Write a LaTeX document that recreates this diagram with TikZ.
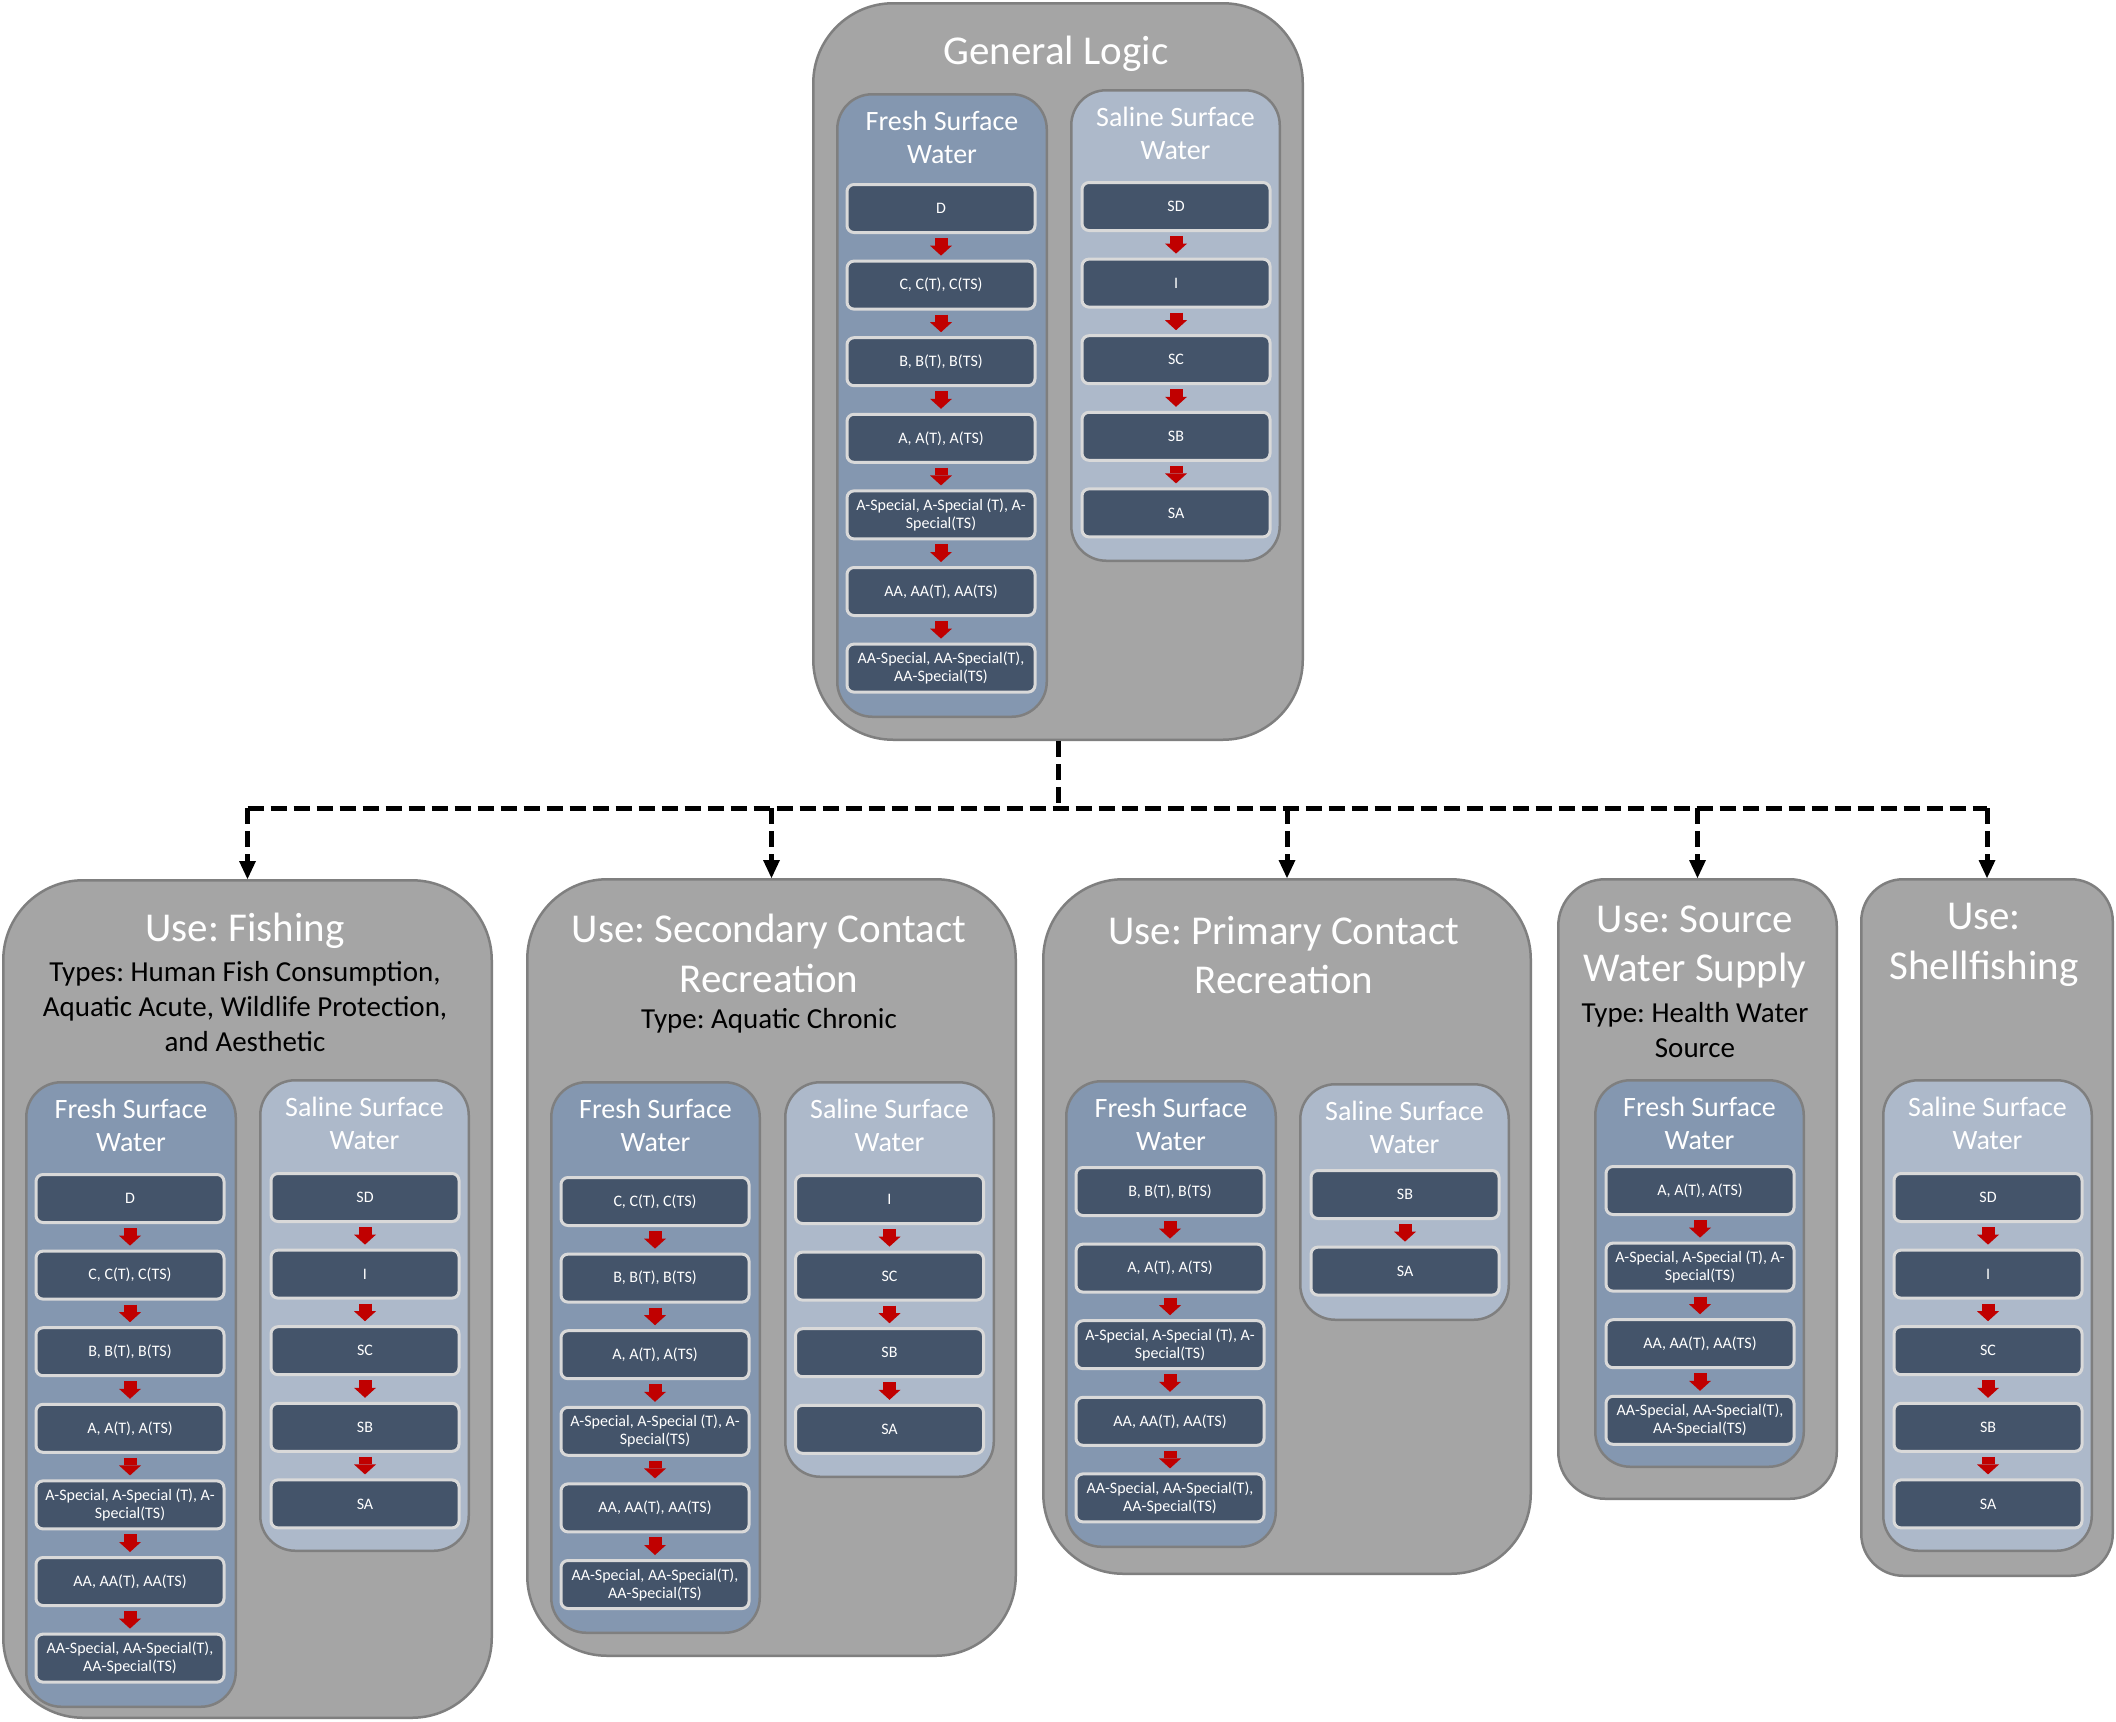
\documentclass[tikz,border=0pt]{standalone}
\usepackage{fontspec}
\setmainfont{Carlito}
\usetikzlibrary{arrows.meta}
\frenchspacing
\definecolor{outerfill}{HTML}{A5A5A5}
\definecolor{outerdraw}{HTML}{7F7F7F}
\definecolor{freshfill}{HTML}{8497B0}
\definecolor{salinefill}{HTML}{ADB9CA}
\definecolor{itemfill}{HTML}{44546A}
\definecolor{itemdraw}{HTML}{D9D9D9}
\definecolor{flowred}{HTML}{C00000}

\newcommand\txD{D}
\newcommand\txC{C, C(T), C(TS)}
\newcommand\txB{B, B(T), B(TS)}
\newcommand\txA{A, A(T), A(TS)}
\newcommand\txAS{A-Special, A-Special (T), A-\\Special(TS)}
\newcommand\txAA{AA, AA(T), AA(TS)}
\newcommand\txAAS{AA-Special, AA-Special(T),\\AA-Special(TS)}

\tikzset{
  outerbox/.style={draw=outerdraw, fill=outerfill, line width=2.5pt, inner sep=0pt, rectangle},
  freshbox/.style={draw=outerdraw, fill=freshfill, line width=2.5pt, rounded corners=35pt, inner sep=0pt, rectangle},
  salinebox/.style={draw=outerdraw, fill=salinefill, line width=2.5pt, rounded corners=35pt, inner sep=0pt, rectangle},
  itembox/.style={draw=itemdraw, fill=itemfill, line width=3pt, rounded corners=7pt,
    minimum width=188pt, minimum height=48pt, inner sep=0pt, text=white,
    font=\fontsize{16}{18}\selectfont, align=center},
  ctitle/.style={text=white, font=\fontsize{28}{33}\selectfont, align=center, inner sep=0pt},
  otitle/.style={text=white, font=\fontsize{41}{49.5}\selectfont, align=center, inner sep=0pt},
  otype/.style={text=black, font=\fontsize{29}{35}\selectfont, align=center, inner sep=0pt},
  flowarrow/.style={draw=flowred, line width=13pt,
    -{Triangle[width=22pt,length=10pt,line width=0pt]}, shorten <=4pt, shorten >=4pt},
  conn/.style={draw=black, line width=5pt, dash pattern=on 16pt off 7pt},
  connarrow/.style={conn, -{Triangle[width=17pt,length=18pt,line width=0pt]}},
}

% outer box: name, x1, x2, top, bottom, corner radius
\newcommand{\wouter}[6]{%
  \node[outerbox, rounded corners=#6pt, minimum width={#3-#2-2.5}, minimum height={#5-#4-2.5}]
    (#1) at ({(#2+#3)/2},{(#4+#5)/2}) {};}
% container: name, x1, x2, top, bottom, style, title
\newcommand{\wcol}[7]{%
  \node[#6, minimum width={#3-#2-2.5}, minimum height={#5-#4-2.5}]
    (#1) at ({(#2+#3)/2},{(#4+#5)/2}) {};
  \node[ctitle] (#1t) at ({(#2+#3)/2},{#4+44.5}) {#7};}
% items: name, center x, first top, list
\newcommand{\witems}[4]{%
  \foreach \t [count=\i] in {#4} {
    \node[itembox] (#1\i) at (#2,{#3+25.5+(\i-1)*76.6}) {\t};
    \ifnum\i>1
      \pgfmathtruncatemacro\prev{\i-1}
      \draw[flowarrow] (#1\prev.south) -- (#1\i.north);
    \fi
  }}

\begin{document}
\begin{tikzpicture}[x=1pt,y=-1pt]
\useasboundingbox (0,0) rectangle (2116,1721);
\fill[white] (0,0) rectangle (2116,1721);

% outer boxes
\wouter{gl}{812}{1304}{2}{741}{80}
\wouter{fish}{2}{493}{879}{1719}{80}
\wouter{sec}{526}{1017}{878}{1657}{80}
\wouter{pri}{1042}{1532}{878}{1575}{80}
\wouter{src}{1557}{1838}{878}{1500}{47}
\wouter{shell}{1860}{2114}{878}{1577}{42}

% titles
\node[otitle] (glt) at (1056,54) {General Logic};
\node[otitle] (fisht) at (245,931) {Use: Fishing};
\node[otype] (fishy) at (245,1007) {Types: Human Fish Consumption,\\Aquatic Acute, Wildlife Protection,\\and Aesthetic};
\node[otitle] (sect) at (769,953.5) {Use: Secondary Contact\\Recreation};
\node[otype] (secy) at (769,1021) {Type: Aquatic Chronic};
\node[otitle] (prit) at (1284,955) {Use: Primary Contact\\Recreation};
\node[otitle] (srct) at (1695,947) {Use: Source\\Water Supply};
\node[otype] (srcy) at (1695,1030) {Type: Health Water\\Source};
\node[otitle] (shellt) at (1984,945) {Use:\\Shellfishing};

% General Logic
\wcol{glf}{836}{1048}{93}{718}{freshbox}{Fresh Surface\\Water}
\witems{glf}{941}{183}{\txD,\txC,\txB,\txA,\txAS,\txAA,\txAAS}
\wcol{gls}{1070}{1281}{89}{562}{salinebox}{Saline Surface\\Water}
\witems{gls}{1176}{181}{SD,I,SC,SB,SA}

% Fishing
\wcol{fif}{25}{237}{1081}{1708}{freshbox}{Fresh Surface\\Water}
\witems{fif}{130}{1173}{\txD,\txC,\txB,\txA,\txAS,\txAA,\txAAS}
\wcol{fis}{259}{470}{1079}{1552}{salinebox}{Saline Surface\\Water}
\witems{fis}{365}{1172}{SD,I,SC,SB,SA}

% Secondary
\wcol{sef}{550}{761}{1081}{1634}{freshbox}{Fresh Surface\\Water}
\witems{sef}{655}{1176}{\txC,\txB,\txA,\txAS,\txAA,\txAAS}
\wcol{ses}{784}{995}{1081}{1478}{salinebox}{Saline Surface\\Water}
\witems{ses}{889.5}{1174}{I,SC,SB,SA}

% Primary
\wcol{prf}{1065}{1277}{1080}{1548}{freshbox}{Fresh Surface\\Water}
\witems{prf}{1170}{1166}{\txB,\txA,\txAS,\txAA,\txAAS}
\wcol{prs}{1299}{1510}{1083}{1321}{salinebox}{Saline Surface\\Water}
\witems{prs}{1405}{1169}{SB,SA}

% Source
\wcol{srf}{1594}{1805}{1079}{1468}{freshbox}{Fresh Surface\\Water}
\witems{srf}{1700}{1165}{\txA,\txAS,\txAA,\txAAS}

% Shellfishing
\wcol{shs}{1882}{2093}{1079}{1552}{salinebox}{Saline Surface\\Water}
\witems{shs}{1988}{1172}{SD,I,SC,SB,SA}

% connectors
\coordinate (jn) at (1058,808);
\draw[conn] (gl.south) -- (jn);
\draw[conn] (fish.north |- jn) -- (shell.north |- jn);
\foreach \b in {fish,sec,pri,src,shell}
  \draw[connarrow] (\b.north |- jn) -- (\b.north);
\end{tikzpicture}
\end{document}
